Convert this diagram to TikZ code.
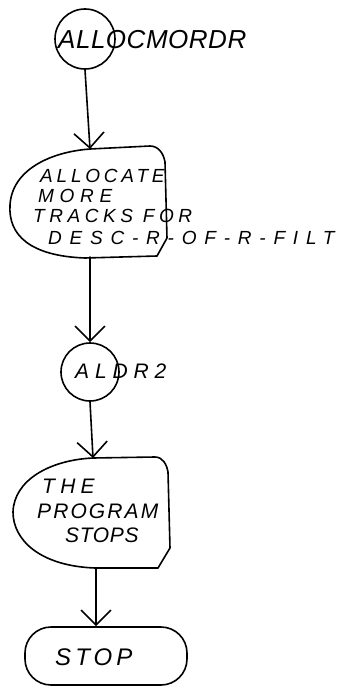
\documentclass[tikz,border=0pt]{standalone}
\usepackage{fontspec}
\setmainfont{Liberation Sans}
\usetikzlibrary{arrows.meta}
\newcommand{\hw}[2]{\fontsize{#1}{#1}\selectfont\itshape\addfontfeature{LetterSpace=#2}}
\tikzset{
  ln/.style={line width=1.6pt, line join=round, line cap=round},
  arr/.style={ln, -{Straight Barb[length=15pt,width=30pt,line width=1.6pt]}},
  lbl/.style={anchor=base west, inner sep=0pt},
  conn/.style={ln, draw, circle, minimum size=60pt, inner sep=0pt},
}
\begin{document}
\begin{tikzpicture}[x=1pt,y=-1pt]
\useasboundingbox (0,0) rectangle (360,688);
% connector circle 1
\node[conn] (c1) at (85,39) {};
\node[lbl] (t1) at (58,48) {\hw{26}{2}ALLOCMORDR};
% process box 2
\coordinate (b2t) at (90,149);
\coordinate (b2b) at (90,257);
\draw[ln] (b2t) -- (150,146) to[out=0,in=100] (165,162) -- (167,238) -- (157,256) -- (85,258)
  .. controls (30,256) and (8,235) .. (10,205) .. controls (12,170) and (50,152) .. (b2t);
\node[lbl] (t2a) at (40,182) {\hw{19}{20}ALLOCATE};
\node[lbl] (t2b) at (38,202) {\hw{19}{30}MORE};
\node[lbl] (t2c) at (33,222) {\hw{19}{24}TRACKS FOR};
\node[lbl] (t2d) at (48,244) {\hw{19}{41}DESC-R-OF-R-FILT};
% connector circle 3
\node[conn, minimum size=58pt] (c3) at (90,372) {};
\node[lbl] (t3) at (75,378) {\hw{21}{28}ALDR2};
% process box 4
\coordinate (b4t) at (93,458);
\coordinate (b4b) at (96,568);
\draw[ln] (b4t) -- (155,457) to[out=0,in=100] (168,472) -- (170,548) -- (158,568) -- (95,568)
  .. controls (40,566) and (13,540) .. (13,512) .. controls (14,480) and (50,460) .. (b4t);
\node[lbl] (t4a) at (42,493) {\hw{21}{25}THE};
\node[lbl] (t4b) at (37,518) {\hw{21}{10}PROGRAM};
\node[lbl] (t4c) at (65,542) {\hw{21}{3}STOPS};
% terminal
\node[ln, draw, rounded corners=26pt, minimum width=162pt, minimum height=58pt, inner sep=0pt] (stop) at (106,656) {};
\node[lbl] (t5) at (55,665) {\hw{24}{17}STOP};
% connectors
\draw[arr] (c1.south) -- (b2t);
\draw[arr] (b2b) -- (c3.north);
\draw[arr] (c3.south) -- (b4t);
\draw[arr] (b4b) -- (b4b |- stop.north);
\end{tikzpicture}
\end{document}
